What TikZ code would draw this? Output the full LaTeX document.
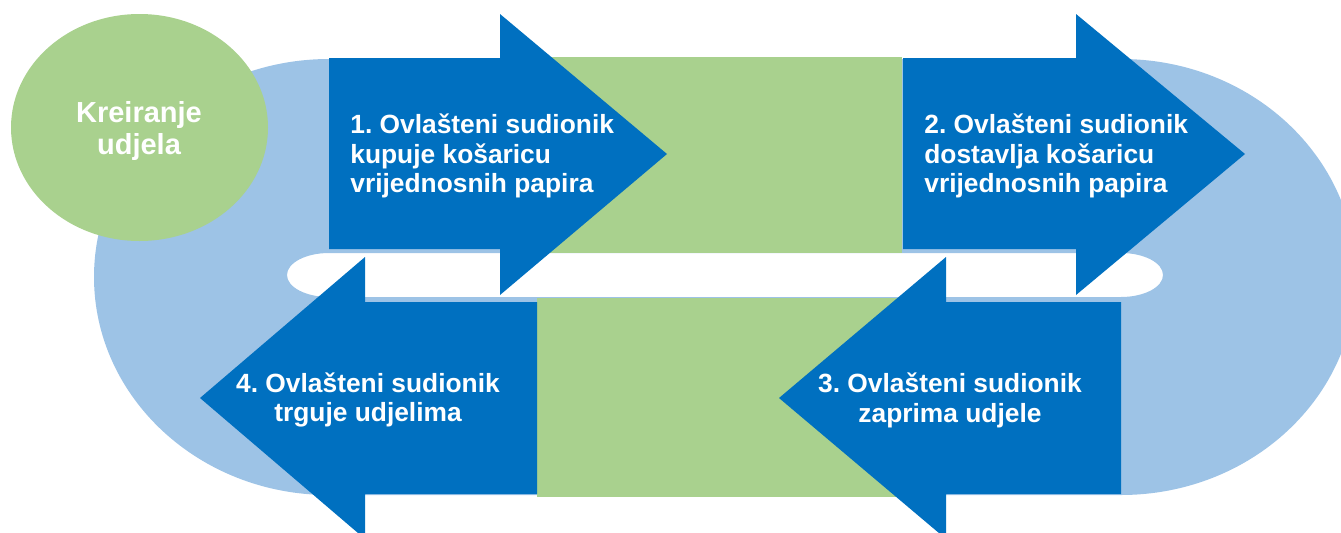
\documentclass[tikz,border=0pt]{standalone}
\usepackage{fontspec}
\setmainfont{Liberation Sans}
\usepackage{tikz}
\usetikzlibrary{calc}
\frenchspacing

\definecolor{darkblue}{RGB}{0,112,192}
\definecolor{lightblue}{RGB}{157,195,230}
\definecolor{lightgreen}{RGB}{169,209,142}

\begin{document}
\begin{tikzpicture}[x=0.02cm, y=0.02cm,
        steptext/.style={text=white, font=\fontsize{15}{17}\selectfont\bfseries, inner sep=0pt},
        arrowshape/.style={fill=darkblue},
        greenbox/.style={fill=lightgreen}]
        \useasboundingbox (0,0) rectangle (1341,532);
        \clip (0,0) rectangle (1341,532);

        % ring behind everything
        \fill[lightblue, even odd rule]
            (329,473) -- (1121,473) arc[start angle=90, end angle=-90, x radius=235, y radius=218]
            -- (329,37) arc[start angle=270, end angle=90, x radius=235, y radius=218] -- cycle
            (329,279) -- (1121,279) arc[start angle=90, end angle=-90, x radius=42, y radius=22]
            -- (329,235) arc[start angle=270, end angle=90, x radius=42, y radius=22] -- cycle;

        \fill[lightgreen] (139.5,404.5) ellipse[x radius=128.5, y radius=113.5];
        \node[steptext, align=center, font=\fontsize{16.5}{18.7}\selectfont\bfseries] (start) at (139,401) {Kreiranje\\udjela};

        \fill[greenbox] (540,279) rectangle (902,475);
        \fill[greenbox] (537,35) rectangle (900,234);

        \fill[arrowshape] (329,283) -- (329,474) -- (500,474) -- (500,518) -- (667,378) -- (500,237) -- (500,283) -- cycle;
        \fill[arrowshape] (903,283) -- (903,474) -- (1076,474) -- (1076,518) -- (1245,378) -- (1076,237) -- (1076,283) -- cycle;
        \fill[arrowshape] (1121,38) -- (1121,230) -- (946,230) -- (946,275) -- (779,134) -- (946,-7) -- (946,38) -- cycle;
        \fill[arrowshape] (537,38) -- (537,230) -- (365,230) -- (365,275) -- (200,134) -- (365,-7) -- (365,38) -- cycle;

        \node[steptext, align=left, anchor=west] (buy) at (350,376) {1. Ovlašteni sudionik\\kupuje košaricu\\vrijednosnih papira};
        \node[steptext, align=left, anchor=west] (deliver) at (924,376) {2. Ovlašteni sudionik\\dostavlja košaricu\\vrijednosnih papira};
        \node[steptext, align=center] (receive) at (950,132) {3. Ovlašteni sudionik\\zaprima udjele};
        \node[steptext, align=center] (trade) at (368,132) {4. Ovlašteni sudionik\\trguje udjelima};
\end{tikzpicture}
\end{document}
